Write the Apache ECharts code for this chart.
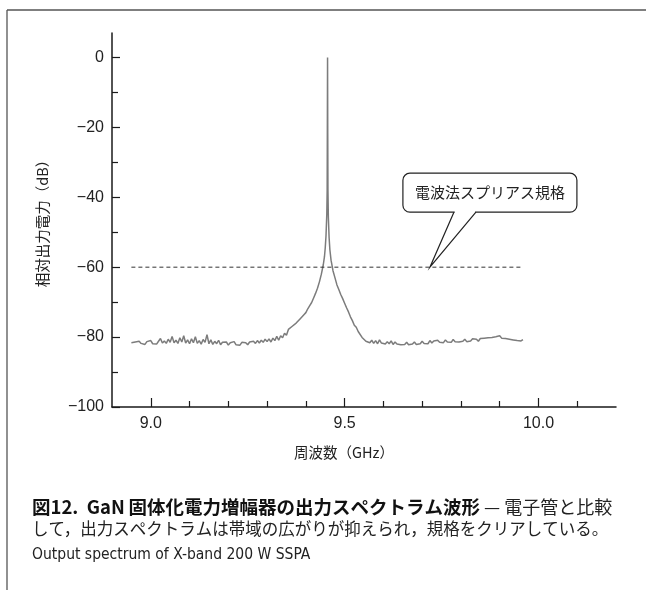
<!DOCTYPE html>
<html>
<head>
<meta charset="utf-8">
<script src="https://cdn.jsdelivr.net/npm/echarts@6/dist/echarts.min.js"></script>
<style>
html,body{margin:0;padding:0;background:#fff;}
#chart{width:646px;height:590px;}
</style>
</head>
<body>
<div id="chart"></div>
<script>
// ---- data ----
var freqGHz = [
 8.950,8.955,8.960,8.965,8.970,8.975,8.980,8.985,8.990,8.995,
 9.000,9.005,9.010,9.015,9.020,9.025,9.030,9.035,9.040,9.045,
 9.050,9.055,9.060,9.065,9.070,9.075,9.080,9.085,9.090,9.095,
 9.100,9.105,9.110,9.115,9.120,9.125,9.130,9.135,9.140,9.145,
 9.150,9.155,9.160,9.165,9.170,9.175,9.180,9.185,9.190,9.195,
 9.200,9.205,9.210,9.215,9.220,9.225,9.230,9.235,9.240,9.245,
 9.250,9.255,9.260,9.265,9.270,9.275,9.280,9.285,9.290,9.295,
 9.300,9.305,9.310,9.315,9.320,9.325,9.330,9.335,9.340,
 9.345,9.350,9.355,9.360,9.365,9.370,9.375,9.380,9.385,9.390,
 9.395,9.400,9.405,9.410,9.415,9.420,9.425,9.430,9.435,9.440,
 9.445,9.448,9.450,9.452,9.454,9.455,9.4555,9.456,9.4565,9.457,
 9.458,9.460,9.462,9.465,9.470,9.475,9.480,9.485,9.490,9.495,
 9.500,9.505,9.510,9.515,9.520,9.525,9.530,9.535,9.540,9.545,
 9.550,9.555,9.560,
 9.565,9.570,9.575,9.580,9.585,9.590,9.595,9.600,9.605,9.610,
 9.615,9.620,9.625,9.630,9.635,9.640,9.645,9.650,9.655,9.660,
 9.665,9.670,9.675,9.680,9.685,9.690,9.695,9.700,9.705,9.710,
 9.715,9.720,9.725,9.730,9.735,9.740,9.745,9.750,9.755,9.760,
 9.765,9.770,9.775,9.780,9.785,9.790,9.795,9.800,9.805,9.810,
 9.815,9.820,9.825,9.830,9.835,9.840,9.845,9.850,9.855,9.860,
 9.865,9.870,9.875,9.880,9.885,9.890,9.895,9.900,9.905,9.910,
 9.915,9.920,9.925,9.930,9.935,9.940,9.945,9.950,9.955,9.960
];
var relPowerDB = [
 -81.6,-82.0,-81.4,-81.9,-81.2,-81.8,-81.5,-82.1,-81.3,-81.7,
 -81.0,-81.9,-81.4,-82.0,-81.2,-80.4,-81.7,-81.1,-81.8,-80.6,
 -81.5,-79.8,-81.6,-80.9,-81.8,-80.2,-81.4,-79.6,-81.7,-80.8,
 -81.9,-80.5,-81.6,-79.9,-81.8,-81.0,-82.0,-80.7,-81.5,-79.3,
 -81.9,-80.8,-82.1,-81.2,-81.9,-80.9,-82.2,-81.5,-82.0,-81.4,
 -82.3,-81.6,-82.1,-81.3,-82.2,-81.7,-82.3,-81.5,-82.0,-81.6,
 -82.2,-81.4,-81.9,-81.2,-81.8,-81.0,-81.7,-80.9,-81.5,-80.6,
 -81.3,-80.5,-81.4,-80.3,-81.0,-79.8,-80.9,-79.6,-80.2,
 -78.9,-79.5,-77.8,-78.3,-76.9,-77.4,-76.0,-75.9,-74.8,-74.5,
 -73.6,-73.0,-71.9,-71.0,-70.1,-68.8,-67.5,-66.0,-64.2,-62.0,
 -59.3,-57.0,-54.5,-51.0,-45.0,-38.0,-20.0,0.0,-22.0,-38.0,
 -45.5,-51.5,-55.0,-58.0,-61.0,-63.0,-65.0,-66.4,-67.8,-69.0,
 -70.3,-71.6,-72.8,-74.2,-75.3,-76.6,-77.2,-78.4,-78.9,-80.1,
 -80.6,-81.2,-80.7,
 -81.6,-80.9,-81.8,-81.0,-81.9,-80.8,-81.7,-81.2,-82.0,-81.3,
 -81.9,-81.1,-82.1,-81.4,-82.0,-81.6,-82.2,-81.7,-82.1,-81.5,
 -82.2,-81.8,-82.0,-81.4,-82.1,-81.6,-81.9,-81.2,-81.8,-81.3,
 -81.9,-81.0,-81.7,-81.1,-81.6,-80.9,-81.5,-81.0,-81.6,-80.8,
 -81.4,-80.9,-81.5,-80.7,-81.3,-80.8,-81.4,-80.9,-81.2,-80.6,
 -81.3,-80.8,-81.1,-80.5,-81.0,-80.6,-81.2,-80.4,-80.9,-80.3,
 -80.8,-80.2,-80.7,-80.1,-80.5,-79.9,-80.4,-79.6,-80.3,-79.8,
 -80.4,-80.0,-80.6,-80.2,-80.8,-80.4,-81.0,-80.5,-81.1,-80.7
];
var xLabelTicks = [9.0, 9.5, 10.0];
var xMinorTicks = [9.1, 9.2, 9.3, 9.4, 9.6, 9.7, 9.8, 9.9, 10.1];
var yLabelTicks = [-100, -80, -60, -40, -20, 0];
var yMinorTicks = [-90, -70, -50, -30, -10];
var spuriousLimitDB = -60;
var spuriousLimitRange = [8.95, 9.96];
var calloutAnchorGHz = 9.72;
var calloutText = '電波法スプリアス規格';
var xAxisTitle = '周波数（GHz）';
var yAxisTitle = '相対出力電力（dB）';
var captionLine1Bold = '図12.  GaN\u2009固体化電力増幅器の出力スペクトラム波形';
var captionLine1Rest = ' — 電子管と比較';
var captionLine2 = 'して，出力スペクトラムは帯域の広がりが抑えられ，規格をクリアしている。';
var captionLine3 = 'Output spectrum of X-band 200 W SSPA';

// ---- chart ----
var FONT = "'Liberation Sans', 'Noto Sans CJK JP', sans-serif";
var JFONT = "'Noto Sans CJK JP', sans-serif";
var chart = echarts.init(document.getElementById('chart'), null, {renderer: 'canvas'});

var spectrum = freqGHz.map(function (f, i) { return [f, relPowerDB[i]]; });
var limitLine = spuriousLimitRange.map(function (f) { return [f, spuriousLimitDB]; });

function minusFmt(v) { return String(v).replace('-', '\u2212'); }

var axisLineStyle = {color: '#1a1a1a', width: 1.5};

var option = {
  backgroundColor: '#fff',
  animation: false,
  textStyle: {fontFamily: FONT},
  grid: {left: 112, right: 30, top: 33, bottom: 183, containLabel: false},
  xAxis: [{
    type: 'value', min: 8.9, max: 10.2, position: 'bottom',
    axisLine: {show: true, onZero: false, lineStyle: axisLineStyle},
    axisTick: {show: true, inside: true, length: 9, customValues: xLabelTicks, lineStyle: {color: '#1a1a1a', width: 1.2}},
    axisLabel: {customValues: xLabelTicks, formatter: function (v) { return v.toFixed(1); },
      fontSize: 16, color: '#222', margin: 9, fontFamily: FONT},
    splitLine: {show: false},
    name: xAxisTitle, nameLocation: 'middle', nameGap: 38,
    nameTextStyle: {fontSize: 14.5, color: '#222', fontFamily: JFONT, padding: [0, 40, 0, 0]}
  }, {
    type: 'value', min: 8.9, max: 10.2, position: 'bottom', offset: 0,
    axisLine: {show: false, onZero: false},
    axisTick: {show: true, inside: true, length: 6, customValues: xMinorTicks, lineStyle: {color: '#1a1a1a', width: 1.2}},
    axisLabel: {show: false},
    splitLine: {show: false}
  }],
  yAxis: [{
    type: 'value', min: -100, max: 7, position: 'left',
    axisLine: {show: true, onZero: false, lineStyle: axisLineStyle},
    axisTick: {show: true, inside: true, length: 8, customValues: yLabelTicks, lineStyle: {color: '#1a1a1a', width: 1.2}},
    axisLabel: {customValues: yLabelTicks, formatter: minusFmt, fontSize: 16, color: '#222', margin: 8, fontFamily: FONT},
    splitLine: {show: false},
    name: yAxisTitle, nameLocation: 'middle', nameGap: 62, nameRotate: 90,
    nameTextStyle: {fontSize: 14.5, color: '#222', fontFamily: JFONT}
  }, {
    type: 'value', min: -100, max: 7, position: 'left', offset: 0,
    axisLine: {show: false, onZero: false},
    axisTick: {show: true, inside: true, length: 6, customValues: yMinorTicks, lineStyle: {color: '#1a1a1a', width: 1.2}},
    axisLabel: {show: false},
    splitLine: {show: false}
  }],
  series: [{
    type: 'line', name: 'spectrum', data: spectrum, xAxisIndex: 0, yAxisIndex: 0,
    showSymbol: false, smooth: false,
    lineStyle: {color: '#7c7c7c', width: 1.5}
  }, {
    type: 'line', name: 'limit', data: limitLine, xAxisIndex: 0, yAxisIndex: 0,
    showSymbol: false,
    lineStyle: {color: '#333', width: 1, type: [4, 3]}
  }]
};
chart.setOption(option);

// ---- annotations (callout, frame, caption) ----
var tip = chart.convertToPixel({xAxisIndex: 0, yAxisIndex: 0}, [calloutAnchorGHz, spuriousLimitDB]);
var tx = tip[0], ty = tip[1];
var boxL = tx - 27, boxR = tx + 147, boxT = ty - 94, boxB = ty - 55;
var baseA = tx + 24, baseB = tx + 46;

chart.setOption({
  graphic: [
    {type: 'line', shape: {x1: 7, y1: 10, x2: 646, y2: 10}, style: {stroke: '#555', lineWidth: 1.3}, z: 10},
    {type: 'line', shape: {x1: 7, y1: 10, x2: 7, y2: 590}, style: {stroke: '#555', lineWidth: 1.3}, z: 10},
    {type: 'rect', shape: {x: boxL, y: boxT, width: boxR - boxL, height: boxB - boxT, r: 7},
      style: {fill: '#fff', stroke: '#222', lineWidth: 1.2}, z: 20},
    {type: 'rect', shape: {x: baseA + 0.8, y: boxB - 1.5, width: baseB - baseA - 1.6, height: 3},
      style: {fill: '#fff'}, z: 21},
    {type: 'polyline', shape: {points: [[baseA, boxB], [tx, ty], [baseB, boxB]]},
      style: {stroke: '#222', lineWidth: 1.2, fill: null}, z: 22},
    {type: 'text', x: (boxL + boxR) / 2, y: (boxT + boxB) / 2,
      style: {text: calloutText, fontSize: 15, fill: '#222', align: 'center', verticalAlign: 'middle',
        fontFamily: JFONT}, z: 23},
    {type: 'text', x: 32, y: 507,
      style: {text: '{b|' + captionLine1Bold + '}{r|' + captionLine1Rest + '}', verticalAlign: 'middle',
        rich: {
          b: {fontSize: 18.5, fontWeight: 'bold', fill: '#111', fontFamily: JFONT},
          r: {fontSize: 18, fontWeight: 'normal', fill: '#222', fontFamily: JFONT}
        }}, z: 10},
    {type: 'text', x: 32, y: 529,
      style: {text: captionLine2, fontSize: 16.5, fill: '#222', verticalAlign: 'middle',
        fontFamily: JFONT}, z: 10},
    {type: 'text', x: 32, y: 555,
      style: {text: captionLine3, fontSize: 15.5, fill: '#222', verticalAlign: 'middle',
        fontFamily: "'DejaVu Sans Condensed', 'Liberation Sans', sans-serif"}, z: 10}
  ]
});
</script>
</body>
</html>
